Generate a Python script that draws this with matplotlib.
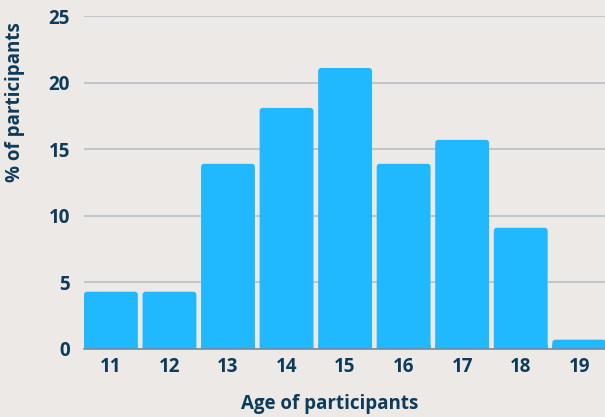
import matplotlib.pyplot as plt
from matplotlib.patches import FancyBboxPatch

ages = [11, 12, 13, 14, 15, 16, 17, 18, 19]
percent = [4.3, 4.3, 13.9, 18.1, 21.1, 13.9, 15.7, 9.1, 0.7]
yticks = [0, 5, 10, 15, 20, 25]

bg = '#ece9e6'
bar_color = '#20b8fe'
text_color = '#0c3b5c'

plt.rcParams['font.family'] = ['Open Sans', 'DejaVu Sans']
plt.rcParams['font.weight'] = 'bold'

fig = plt.figure(figsize=(6.05, 4.17), dpi=100, facecolor=bg)
# axes box in pixels: left 84, right 605, top 16, bottom 349
ax = fig.add_axes([84 / 605, 1 - 349 / 417, (605 - 84) / 605, (349 - 16) / 417])
ax.set_facecolor(bg)

bars = ax.bar(ages, percent, width=0.92, color=bar_color, zorder=3)

ax.set_xlim(10.54, 19.44)
ax.set_ylim(0, 25)

# slightly rounded top corners
px_x = (19.44 - 10.54) / 521
px_y = 25 / 333
for rect in bars:
    rect.set_visible(False)
    x, w, h = rect.get_x(), rect.get_width(), rect.get_height()
    r = 3 * px_x
    patch = FancyBboxPatch((x + r, r * 0), w - 2 * r, h - 3 * px_y,
                           boxstyle=f'round,pad={r}', mutation_aspect=px_y / px_x,
                           facecolor=bar_color, edgecolor='none', zorder=3,
                           clip_on=True)
    ax.add_patch(patch)
    ax.add_patch(plt.Rectangle((x, 0), w, min(h, 4 * px_y), facecolor=bar_color,
                               edgecolor='none', zorder=3))

ax.set_yticks(yticks)
ax.set_xticks(ages)
ax.yaxis.grid(True, color='#b5bcc4', linewidth=1.1, zorder=0)
ax.tick_params(length=0, labelsize=13.5, labelcolor=text_color, pad=6)
ax.tick_params(axis='y', pad=10)
for lbl in ax.get_xticklabels() + ax.get_yticklabels():
    lbl.set_fontweight('bold')

for side in ['top', 'right', 'left']:
    ax.spines[side].set_visible(False)
ax.spines['bottom'].set_color('#7a8a99')
ax.spines['bottom'].set_linewidth(1.2)
ax.spines['bottom'].set_zorder(4)

fig.text(330 / 605, 1 - 404 / 417, 'Age of participants', ha='center', va='center',
         fontsize=13.5, fontweight='bold', color=text_color)
fig.text(15 / 605, 1 - 102 / 417, '% of participants', ha='center', va='center',
         rotation=90, fontsize=13.5, fontweight='bold', color=text_color)

fig.savefig('out.png', dpi=100, facecolor=bg)
